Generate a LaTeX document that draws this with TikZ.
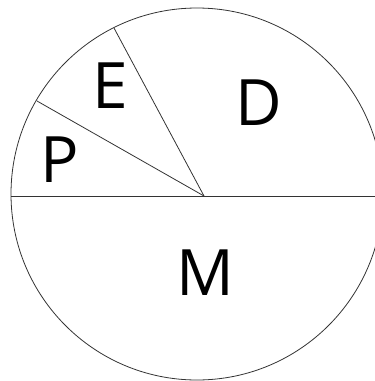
\documentclass[tikz,border=0pt]{standalone}
\usepackage{fontspec}
\setmainfont{Open Sans}
\usetikzlibrary{positioning, calc}

\begin{document}
\begin{tikzpicture}[
        x=1pt, y=-1pt, % 1 unidade = 1 pixel da figura, eixo y para baixo
        rotulo/.style={font=\fontsize{64}{64}\selectfont, inner sep=0pt},
        linha/.style={line width=0.8pt, color=black!80}
        ]
        \useasboundingbox (0,0) rectangle (375,381);
        \clip (0,0) rectangle (375,381);

        % Pontos do circulo
        \coordinate (centro) at (197,194);
        \coordinate (origem) at (204,196);
        \coordinate (esq) at (11,196);
        \coordinate (dir) at (375,196);
        \coordinate (pe) at (37,101);
        \coordinate (ed) at (114,28);

        % Circulo e divisoes
        \draw[linha] (centro) circle[radius=186pt];
        \draw[linha] (esq) -- (dir);
        \draw[linha] (origem) -- (pe);
        \draw[linha] (origem) -- (ed);

        % Rotulos dos setores
        \node[rotulo] (p) at (60,160) {P};
        \node[rotulo] (e) at (110,86) {E};
        \node[rotulo] (d) at (259,103) {D};
        \node[rotulo] (m) at (205,273) {M};
    \end{tikzpicture}
\end{document}
